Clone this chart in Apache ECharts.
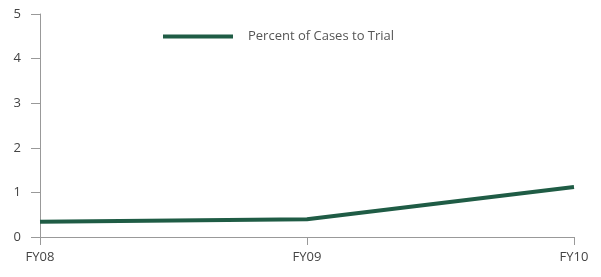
<!DOCTYPE html>
<html>
<head>
<meta charset="utf-8">
<script src="https://cdn.jsdelivr.net/npm/echarts@6/dist/echarts.min.js"></script>
<style>
html, body { margin: 0; padding: 0; background: #fff; }
#main { width: 601px; height: 277px; }
</style>
</head>
<body>
<div id="main"></div>
<script>
var years = ['FY08', 'FY09', 'FY10'];
var trialPct = [0.34, 0.40, 1.12];
var yTicks = [0, 1, 2, 3, 4, 5];

var myChart = echarts.init(document.getElementById('main'));
var option = {
    animation: false,
    textStyle: { fontFamily: 'Open Sans' },
    grid: { left: 40, right: 27, top: 14, bottom: 40 },
    legend: {
        data: ['Percent of Cases to Trial'],
        left: 158,
        top: 25,
        itemWidth: 70,
        itemHeight: 4,
        itemGap: 10,
        icon: 'rect',
        textStyle: { color: '#555', fontSize: 13, padding: [0, 0, 0, 10] }
    },
    xAxis: {
        type: 'category',
        boundaryGap: false,
        data: years,
        axisLine: { lineStyle: { color: '#999' } },
        axisTick: { show: true, length: 8, alignWithLabel: true, lineStyle: { color: '#999' } },
        axisLabel: { color: '#444', fontSize: 13, margin: 14 }
    },
    yAxis: {
        type: 'value',
        min: yTicks[0],
        max: yTicks[yTicks.length - 1],
        interval: 1,
        axisLine: { show: true, lineStyle: { color: '#999' } },
        axisTick: { show: true, length: 9, lineStyle: { color: '#999' } },
        splitLine: { show: false },
        axisLabel: { color: '#444', fontSize: 13, margin: 19 }
    },
    series: [{
        name: 'Percent of Cases to Trial',
        type: 'line',
        data: trialPct,
        symbol: 'none',
        lineStyle: { color: '#1f5c45', width: 4 },
        itemStyle: { color: '#1f5c45' }
    }]
};
myChart.setOption(option);
</script>
</body>
</html>
